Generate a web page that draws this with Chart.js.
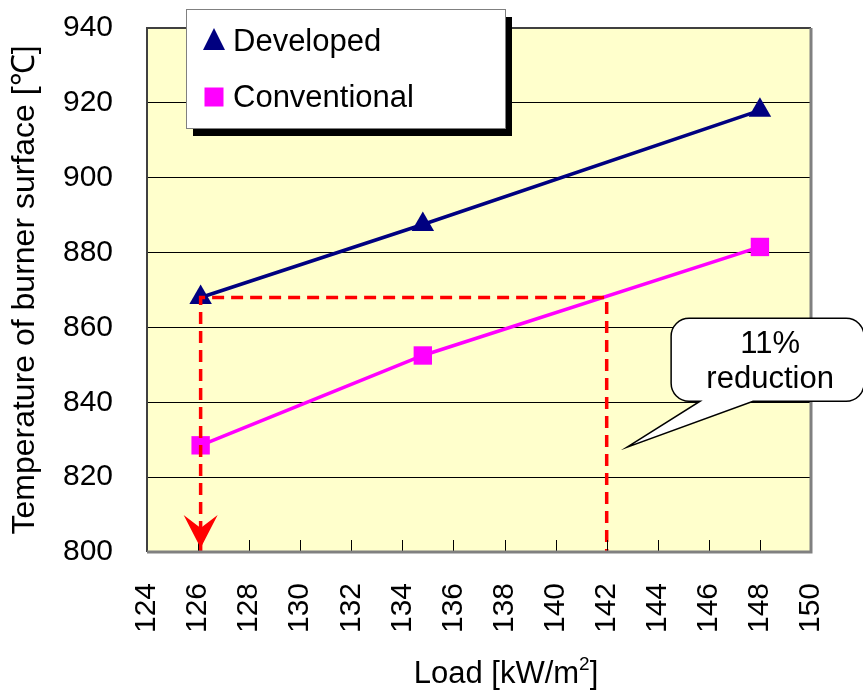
<!DOCTYPE html>
<html>
<head>
<meta charset="utf-8">
<script src="https://cdn.jsdelivr.net/npm/chart.js@4.4.0/dist/chart.umd.min.js"></script>
<style>
  html, body { margin: 0; padding: 0; background: #ffffff; }
  #chart_box { width: 863px; height: 691px; }
</style>
</head>
<body>
<div id="chart_box"><canvas id="temp_chart" width="863" height="691"></canvas></div>
<script>
// burner surface temperature vs load

const LOAD_VALUES = [ 126.1, 134.8, 148.0 ];
const DEVELOPED_TEMPS = [ 868, 887.5, 918 ];
const CONVENTIONAL_TEMPS = [ 828.5, 852.5, 881.5 ];

// red dashed guide: down from the developed point, across, and down at 142
const GUIDE_LOADS = [ 126.1, 126.1, 142, 142 ];
const GUIDE_TEMPS = [ 800, 868, 868, 800 ];

const X_MIN = 124, X_MAX = 150, X_STEP = 2;
const Y_MIN = 800, Y_MAX = 940, Y_STEP = 20;

const SERIES_NAMES = [ 'Developed', 'Conventional' ];
const X_TITLE_PARTS = [ 'Load [kW/m', '2', ']' ];   // middle part is a superscript
const Y_TITLE = 'Temperature of burner surface [℃]';
const CALLOUT_LINES = [ '11%', 'reduction' ];
const CALLOUT_AT = [ 142.8, 828 ];

const FONT_FAMILY = "'Liberation Sans', Arial, sans-serif";
const NAVY = '#000080';
const MAGENTA = '#ff00ff';
const GUIDE_RED = '#ff0000';
const PLOT_BG = '#ffffcc';

function to_points( xs, ys ) {
  return xs.map( ( x, i ) => {
    return { x: x, y: ys[ i ] };
  } );
}

function draw_frame( chart ) {
  const ctx = chart.ctx;
  const a = chart.chartArea;
  ctx.save();
  // little tick marks standing up from the bottom edge
  ctx.strokeStyle = '#000000';
  ctx.lineWidth = 1;
  for ( let v = X_MIN + X_STEP; v < X_MAX; v += X_STEP ) {
    const px = Math.round( chart.scales.x.getPixelForValue( v ) ) + 0.5;
    ctx.beginPath();
    ctx.moveTo( px, a.bottom );
    ctx.lineTo( px, a.bottom - 12 );
    ctx.stroke();
  }
  ctx.strokeStyle = '#404040';
  ctx.lineWidth = 2;
  ctx.beginPath();
  ctx.moveTo( a.left, a.bottom );
  ctx.lineTo( a.left, a.top );
  ctx.lineTo( a.right, a.top );
  ctx.stroke();
  ctx.strokeStyle = '#808080';
  ctx.lineWidth = 3;
  ctx.beginPath();
  ctx.moveTo( a.right, a.top );
  ctx.lineTo( a.right, a.bottom );
  ctx.lineTo( a.left, a.bottom );
  ctx.stroke();
  ctx.restore();
}

function draw_arrow_head( chart ) {
  const ctx = chart.ctx;
  const x = chart.scales.x.getPixelForValue( GUIDE_LOADS[ 0 ] );
  const y = chart.scales.y.getPixelForValue( GUIDE_TEMPS[ 0 ] );
  ctx.save();
  ctx.fillStyle = GUIDE_RED;
  ctx.beginPath();
  ctx.moveTo( x, y - 4 );
  ctx.lineTo( x - 17, y - 37 );
  ctx.lineTo( x, y - 24 );
  ctx.lineTo( x + 17, y - 37 );
  ctx.closePath();
  ctx.fill();
  ctx.restore();
}

function draw_callout( chart ) {
  const ctx = chart.ctx;
  const tip_x = chart.scales.x.getPixelForValue( CALLOUT_AT[ 0 ] );
  const tip_y = chart.scales.y.getPixelForValue( CALLOUT_AT[ 1 ] );
  const left = tip_x + 44, top = tip_y - 129;
  const right = left + 193, bottom = top + 83, r = 18;
  ctx.save();
  ctx.beginPath();
  ctx.moveTo( left + r, top );
  ctx.lineTo( right - r, top );
  ctx.arcTo( right, top, right, top + r, r );
  ctx.lineTo( right, bottom - r );
  ctx.arcTo( right, bottom, right - r, bottom, r );
  ctx.lineTo( tip_x + 126, bottom );
  ctx.lineTo( tip_x, tip_y );
  ctx.lineTo( tip_x + 73, bottom );
  ctx.lineTo( left + r, bottom );
  ctx.arcTo( left, bottom, left, bottom - r, r );
  ctx.lineTo( left, top + r );
  ctx.arcTo( left, top, left + r, top, r );
  ctx.closePath();
  ctx.fillStyle = '#ffffff';
  ctx.fill();
  ctx.strokeStyle = '#000000';
  ctx.lineWidth = 1.5;
  ctx.stroke();
  ctx.fillStyle = '#000000';
  ctx.font = '31px ' + FONT_FAMILY;
  ctx.textAlign = 'center';
  ctx.textBaseline = 'middle';
  CALLOUT_LINES.forEach( ( line, i ) => {
    ctx.fillText( line, tip_x + 143, top + 26 + i * 35 );
  } );
  ctx.restore();
}

function draw_x_title( chart ) {
  // drawn by hand for the superscript; sits a bit right of the plot centre
  const ctx = chart.ctx;
  const a = chart.chartArea;
  const big = '31px ' + FONT_FAMILY, small = '19px ' + FONT_FAMILY;
  ctx.save();
  ctx.fillStyle = '#000000';
  ctx.textBaseline = 'alphabetic';
  ctx.textAlign = 'left';
  ctx.font = big;
  const w0 = ctx.measureText( X_TITLE_PARTS[ 0 ] ).width;
  const w2 = ctx.measureText( X_TITLE_PARTS[ 2 ] ).width;
  ctx.font = small;
  const w1 = ctx.measureText( X_TITLE_PARTS[ 1 ] ).width;
  let x = a.left + 359 - ( w0 + w1 + w2 ) / 2;
  const base = a.bottom + 131;
  ctx.font = big;
  ctx.fillText( X_TITLE_PARTS[ 0 ], x, base );
  x += w0;
  ctx.font = small;
  ctx.fillText( X_TITLE_PARTS[ 1 ], x, base - 13 );
  x += w1;
  ctx.font = big;
  ctx.fillText( X_TITLE_PARTS[ 2 ], x, base );
  ctx.restore();
}

function draw_marker( ctx, style, x, y, color ) {
  ctx.fillStyle = color;
  ctx.beginPath();
  if ( style == 'triangle' ) {
    ctx.moveTo( x, y - 13 );
    ctx.lineTo( x + 11, y + 9 );
    ctx.lineTo( x - 11, y + 9 );
    ctx.closePath();
  } else {
    ctx.rect( x - 9.5, y - 9.5, 19, 19 );
  }
  ctx.fill();
}

function draw_legend_box( chart ) {
  const ctx = chart.ctx;
  const left = 186, top = 9, w = 319, h = 119;
  ctx.save();
  ctx.fillStyle = '#000000';
  ctx.fillRect( left + 7, top + 8, w, h );
  ctx.fillStyle = '#ffffff';
  ctx.fillRect( left, top, w, h );
  ctx.strokeStyle = '#808080';
  ctx.lineWidth = 1;
  ctx.strokeRect( left + 0.5, top + 0.5, w, h );
  chart.data.datasets.filter( ds => ds.in_legend ).forEach( ( ds, i ) => {
    const cy = top + 32 + i * 56;
    draw_marker( ctx, ds.pointStyle, left + 28, cy, ds.pointBackgroundColor );
    ctx.fillStyle = '#000000';
    ctx.font = '31px ' + FONT_FAMILY;
    ctx.textAlign = 'left';
    ctx.textBaseline = 'middle';
    ctx.fillText( ds.label, left + 47, cy + 1 );
  } );
  ctx.restore();
}

const plot_decor = {
  id: 'plot_decor',
  beforeDraw( chart ) {
    const ctx = chart.ctx;
    const a = chart.chartArea;
    ctx.save();
    ctx.fillStyle = '#ffffff';
    ctx.fillRect( 0, 0, chart.width, chart.height );
    ctx.fillStyle = PLOT_BG;
    ctx.fillRect( a.left, a.top, a.right - a.left, a.bottom - a.top );
    ctx.restore();
  },
  afterDatasetsDraw( chart ) {
    draw_frame( chart );
    draw_arrow_head( chart );
    draw_callout( chart );
    draw_legend_box( chart );
    draw_x_title( chart );
  }
};

function create_chart() {
  const ctx = document.getElementById( 'temp_chart' ).getContext( '2d' );
  return new Chart( ctx, {
    type: 'scatter',
    data: {
      datasets: [
        {
          label: 'guide',
          data: to_points( GUIDE_LOADS, GUIDE_TEMPS ),
          showLine: true,
          borderColor: GUIDE_RED,
          borderWidth: 3.5,
          borderDash: [ 12, 7 ],
          pointRadius: 0,
          in_legend: false
        },
        {
          label: SERIES_NAMES[ 0 ],
          data: to_points( LOAD_VALUES, DEVELOPED_TEMPS ),
          showLine: true,
          borderColor: NAVY,
          borderWidth: 3.5,
          pointStyle: 'triangle',
          pointRadius: 13,
          pointBackgroundColor: NAVY,
          pointBorderColor: NAVY,
          pointBorderWidth: 0,
          in_legend: true
        },
        {
          label: SERIES_NAMES[ 1 ],
          data: to_points( LOAD_VALUES, CONVENTIONAL_TEMPS ),
          showLine: true,
          borderColor: MAGENTA,
          borderWidth: 3.5,
          pointStyle: 'rect',
          pointRadius: 13,
          pointBackgroundColor: MAGENTA,
          pointBorderColor: MAGENTA,
          pointBorderWidth: 0,
          in_legend: true
        }
      ]
    },
    options: {
      responsive: false,
      animation: false,
      events: [],
      layout: { padding: { top: 28, right: 52, left: 0, bottom: 0 } },
      plugins: {
        legend: { display: false },
        tooltip: { enabled: false }
      },
      scales: {
        x: {
          type: 'linear',
          min: X_MIN,
          max: X_MAX,
          afterFit( scale ) {
            scale.height = 139;
            scale.paddingLeft = 0;
            scale.paddingRight = 0;
          },
          border: { display: false },
          grid: { display: false, drawTicks: false },
          ticks: {
            stepSize: X_STEP,
            autoSkip: false,
            minRotation: 90,
            maxRotation: 90,
            padding: 31,
            color: '#000000',
            font: { family: FONT_FAMILY, size: 30 }
          }
        },
        y: {
          min: Y_MIN,
          max: Y_MAX,
          afterFit( scale ) {
            scale.width = 147;
            scale.paddingTop = 0;
            scale.paddingBottom = 0;
          },
          border: { display: false },
          grid: { color: '#000000', lineWidth: 1, drawTicks: false },
          ticks: {
            stepSize: Y_STEP,
            padding: 34,
            color: '#000000',
            font: { family: FONT_FAMILY, size: 30 }
          },
          title: {
            display: true,
            text: Y_TITLE,
            color: '#000000',
            font: { family: FONT_FAMILY, size: 32 },
            padding: { top: 6, bottom: 0 }
          }
        }
      }
    },
    plugins: [ plot_decor ]
  } );
}

document.addEventListener( 'DOMContentLoaded', function () {
  create_chart();
} );
</script>
</body>
</html>
